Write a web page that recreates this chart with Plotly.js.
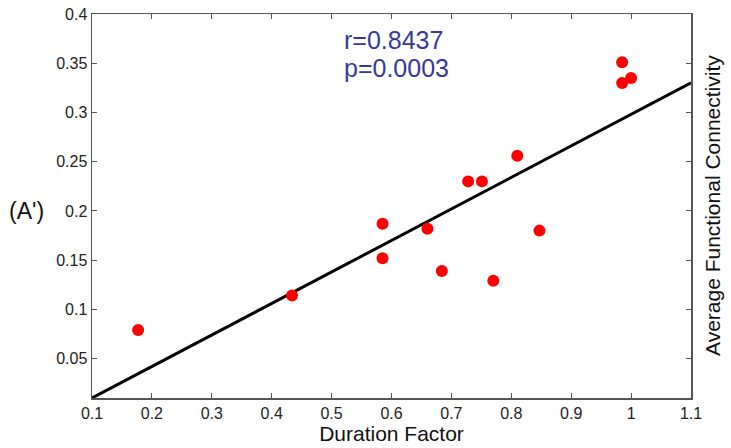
<!DOCTYPE html>
<html>
<head>
<meta charset="utf-8">
<script src="https://cdn.plot.ly/plotly-3.0.1.min.js"></script>
<style>html,body{margin:0;padding:0;background:#fff;}#chart{width:731px;height:448px;}</style>
</head>
<body>
<div id="chart"></div>
<script>
// Data
const durationFactor = [0.177, 0.434, 0.585, 0.585, 0.660, 0.684, 0.728, 0.751, 0.770, 0.810, 0.847, 0.985, 0.985, 1.000];
const avgConnectivity = [0.079, 0.114, 0.187, 0.152, 0.182, 0.139, 0.230, 0.230, 0.129, 0.256, 0.180, 0.351, 0.330, 0.335];
const fitX = [0.1, 1.1];
const fitY = [0.010, 0.330];
const statLabels = ["r=0.8437", "p=0.0003"];
const panelLabel = "(A')";
const xTitle = "Duration Factor";
const yTitle = "Average Functional Connectivity";
const xTickVals = [0.1, 0.2, 0.3, 0.4, 0.5, 0.6, 0.7, 0.8, 0.9, 1.0, 1.1];
const xTickText = ["0.1", "0.2", "0.3", "0.4", "0.5", "0.6", "0.7", "0.8", "0.9", "1", "1.1"];
const yTickVals = [0.05, 0.1, 0.15, 0.2, 0.25, 0.3, 0.35, 0.4];
const yTickText = ["0.05", "0.1", "0.15", "0.2", "0.25", "0.3", "0.35", "0.4"];

const FONT = "Liberation Sans, Arial, sans-serif";
const axisColor = "#555";

const traces = [
  {
    x: fitX, y: fitY, type: "scatter", mode: "lines",
    line: {color: "#000", width: 3}, hoverinfo: "skip", showlegend: false
  },
  {
    x: durationFactor, y: avgConnectivity, type: "scatter", mode: "markers",
    marker: {color: "#ff0000", size: 12}, showlegend: false
  }
];

const axisCommon = {
  showgrid: false, zeroline: false, showline: true, linecolor: axisColor, linewidth: 1.5,
  mirror: "ticks", ticks: "inside", ticklen: 5, tickcolor: axisColor, tickwidth: 1,
  tickfont: {family: FONT, size: 16, color: "#222"}
};

const layout = {
  width: 731, height: 448,
  margin: {l: 92, r: 40, t: 14, b: 50},
  paper_bgcolor: "#fff", plot_bgcolor: "#fff",
  font: {family: FONT},
  xaxis: Object.assign({}, axisCommon, {
    range: [0.1, 1.1], tickvals: xTickVals, ticktext: xTickText,
    title: {text: xTitle, font: {family: FONT, size: 21, color: "#111"}, standoff: 2}
  }),
  yaxis: Object.assign({}, axisCommon, {
    range: [0.01, 0.4], tickvals: yTickVals, ticktext: yTickText
  }),
  annotations: [
    {xref: "x", yref: "y", x: 0.517, y: 0.3736, xanchor: "left", yanchor: "middle",
     text: statLabels[0], showarrow: false, font: {family: FONT, size: 25, color: "#38389a"}},
    {xref: "x", yref: "y", x: 0.517, y: 0.345, xanchor: "left", yanchor: "middle",
     text: statLabels[1], showarrow: false, font: {family: FONT, size: 25, color: "#38389a"}},
    {xref: "paper", yref: "paper", x: 1, y: 0.5, xanchor: "center", yanchor: "middle", xshift: 21,
     text: yTitle, textangle: -90, showarrow: false, font: {family: FONT, size: 21, color: "#111"}},
    {xref: "paper", yref: "y", x: 0, y: 0.2, xanchor: "left", yanchor: "middle", xshift: -85,
     text: panelLabel, showarrow: false, font: {family: FONT, size: 23, color: "#111"}}
  ]
};

Plotly.newPlot("chart", traces, layout, {displayModeBar: false, staticPlot: true});
</script>
</body>
</html>
